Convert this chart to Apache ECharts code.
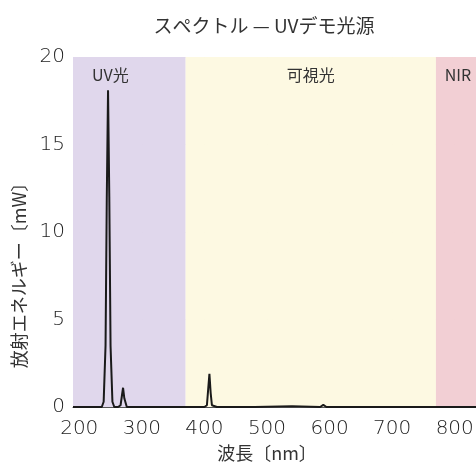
<!DOCTYPE html>
<html>
<head>
<meta charset="utf-8">
<script src="https://cdn.jsdelivr.net/npm/echarts@6/dist/echarts.min.js"></script>
<style>html,body{margin:0;padding:0;background:#fff}#c{width:476px;height:468px}</style>
</head>
<body>
<div id="c"></div>
<script>
// Data
const wavelengths = [190, 200, 220, 236, 239, 242, 244, 246, 248, 250, 253, 256, 262, 266, 268, 270, 272, 276, 300, 340, 380, 400, 404, 406, 408, 410, 412, 420, 480, 540, 585, 590, 595, 650, 720, 780, 850];
const energy      = [0,   0,   0,   0,   0.3, 3.5, 12,  18.1, 12, 3.5, 0.3, 0,   0,   0.1, 0.6, 1.1, 0.5, 0,   0,   0,   0,   0,   0.1, 1.0, 1.9, 0.8, 0.1, 0,   0,   0.05, 0,  0.12, 0,   0,   0,   0,   0];
const bandNames  = ['UV光', '可視光', 'NIR'];
const bandStarts = [190, 370, 770];
const bandEnds   = [370, 770, 850];
const bandColors = ['#ddd4ea', '#fdf8e0', '#f1cbd0'];
const xTicks = [200, 300, 400, 500, 600, 700, 800];
const yTicks = [0, 5, 10, 15, 20];

const numFont = "'DejaVu Sans', 'Noto Sans CJK JP', sans-serif";
const cjkFont = "'Noto Sans CJK JP', 'DejaVu Sans', sans-serif";

const chart = echarts.init(document.getElementById('c'), null, {renderer: 'canvas'});
chart.setOption({
  animation: false,
  title: {
    text: 'スペクトル — UVデモ光源',
    left: 259, top: 11, textAlign: 'center',
    textStyle: {fontFamily: cjkFont, fontSize: 19, fontWeight: 'normal', color: '#333'}
  },
  grid: {left: 73, width: 413, top: 57, bottom: 61, containLabel: false, outerBoundsMode: 'none'},
  xAxis: {
    type: 'value', min: 190, max: 850,
    name: '波長〔nm〕', nameLocation: 'middle', nameGap: 19,
    nameTextStyle: {fontFamily: cjkFont, fontSize: 18, color: '#333', padding: [0, 25, 0, 0]},
    axisLine: {show: true, lineStyle: {color: '#555', width: 1}},
    axisTick: {show: false, customValues: xTicks},
    axisLabel: {customValues: xTicks, fontFamily: numFont, fontSize: 20, fontWeight: 200, color: '#222', margin: 12},
    splitLine: {show: true, lineStyle: {color: 'rgba(0,0,0,0.04)', width: 1}}
  },
  yAxis: {
    type: 'value', min: 0, max: 20, interval: 5,
    name: '放射エネルギー〔mW〕', nameLocation: 'middle', nameGap: 45, nameRotate: 90,
    nameTextStyle: {fontFamily: cjkFont, fontSize: 18, color: '#333', padding: [0, 78, 0, 0]},
    axisLine: {show: false},
    axisTick: {show: false},
    axisLabel: {fontFamily: numFont, fontSize: 20, fontWeight: 200, color: '#222', margin: 8,
      formatter: v => yTicks.includes(v) ? String(v) : ''},
    splitLine: {show: true, lineStyle: {color: 'rgba(0,0,0,0.04)', width: 1}}
  },
  series: [{
    type: 'line',
    data: wavelengths.map((w, i) => [w, energy[i]]),
    showSymbol: false,
    lineStyle: {color: '#1a1a1a', width: 2},
    z: 3,
    markArea: {
      silent: true,
      data: bandNames.map((n, i) => [
        {name: n, xAxis: bandStarts[i], yAxis: 0,
         itemStyle: {color: bandColors[i], opacity: 0.92},
         label: {show: true, position: 'insideTop', distance: 10,
                 offset: i === 0 ? [-19, 0] : (i === 2 ? [-3, 0] : [0, 0]),
                 fontFamily: cjkFont, fontSize: 16, color: '#333'}},
        {xAxis: bandEnds[i], yAxis: 20}
      ])
    }
  }]
});
</script>
</body>
</html>
